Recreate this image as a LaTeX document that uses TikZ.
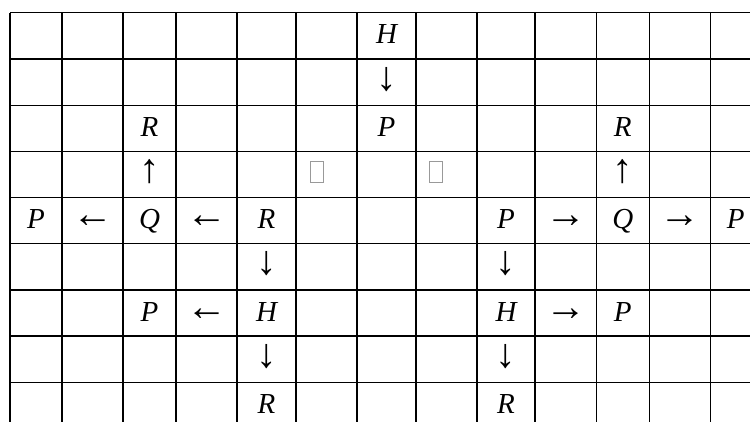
\documentclass[tikz,border=0pt]{standalone}
\usepackage{fontspec}
\setmainfont{Liberation Serif}
\begin{document}
\begin{tikzpicture}[x=1pt,y=-1pt,
  gridline/.style={line width=1.4pt,black},
  var/.style={anchor=base,inner sep=0pt,font=\fontsize{29}{30}\selectfont\itshape},
  vsym/.style={anchor=base,inner sep=0pt,font=\fontsize{41}{42}\selectfont},
  hsym/.style={anchor=center,inner sep=0pt,font=\fontsize{41}{42}\selectfont},
  tofu/.style={draw=gray!80,line width=0.7pt,anchor=south west,inner sep=0pt,
    minimum width=13.5pt,minimum height=21pt}]
\useasboundingbox (0,0) rectangle (750,421);
\clip (0,0) rectangle (750,421);
% table rules
\foreach \y in {12.7,59,105.3,151.7,197.7,243.7,290,336,382.3}
  \draw[gridline] (10,\y) -- (760,\y);
\foreach \x in {10,62,123,176,237,296,357,416,477,535,596.3,649.3,710.3}
  \draw[gridline] (\x,12.7) -- (\x,430);
% row 1
\node[var] (h1) at (386.5,43.7) {H};
% row 2
\node[vsym] (d1) at (386.5,90) {↓};
% row 3
\node[var] (r1) at (149.5,136.3) {R};
\node[var] (p1) at (386.5,136.3) {P};
\node[var] (r2) at (622.8,136.3) {R};
% row 4
\node[vsym] (u1) at (149.5,182.7) {↑};
\node[tofu] (t1) at (309.5,182.7) {};
\node[tofu] (t2) at (428.5,182.7) {};
\node[vsym] (u2) at (622.8,182.7) {↑};
% row 5
\node[var] (p2) at (36,228.7) {P};
\node[hsym] (l1) at (92.5,222) {←};
\node[var] (q1) at (149.5,228.7) {Q};
\node[hsym] (l2) at (206.5,222) {←};
\node[var] (r3) at (266.5,228.7) {R};
\node[var] (p3) at (506,228.7) {P};
\node[hsym] (a1) at (565.7,222) {→};
\node[var] (q2) at (622.8,228.7) {Q};
\node[hsym] (a2) at (679.8,222) {→};
\node[var] (p4) at (735.6,228.7) {P};
% row 6
\node[vsym] (d2) at (266.5,274.7) {↓};
\node[vsym] (d3) at (506,274.7) {↓};
% row 7
\node[var] (p5) at (149.5,321) {P};
\node[hsym] (l3) at (206.5,314.3) {←};
\node[var] (h2) at (266.5,321) {H};
\node[var] (h3) at (506,321) {H};
\node[hsym] (a3) at (565.7,314.3) {→};
\node[var] (p6) at (622.8,321) {P};
% row 8
\node[vsym] (d4) at (266.5,367) {↓};
\node[vsym] (d5) at (506,367) {↓};
% row 9
\node[var] (r4) at (266.5,413.3) {R};
\node[var] (r5) at (506,413.3) {R};
\end{tikzpicture}
\end{document}
